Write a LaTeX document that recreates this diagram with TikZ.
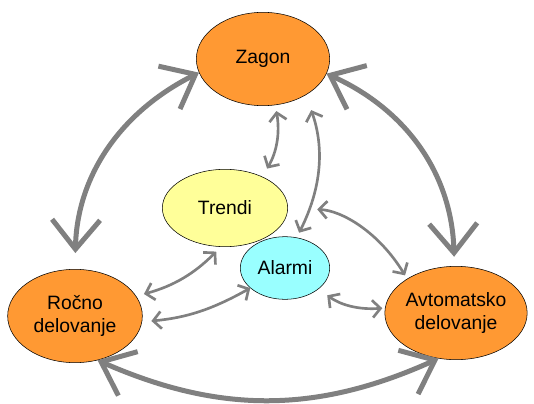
\documentclass[tikz,border=0pt]{standalone}
\usepackage{fontspec}
\setmainfont{Liberation Sans}
\usetikzlibrary{shapes.geometric,arrows.meta}
\definecolor{narancna}{RGB}{255,153,51}
\definecolor{rumena}{RGB}{255,255,153}
\definecolor{modra}{RGB}{153,255,255}
\definecolor{siva}{RGB}{128,128,128}
\tikzset{
  stanje/.style={ellipse, draw=black, fill=narancna, inner sep=0pt, align=center,
    font=\fontsize{14.5}{17}\selectfont},
  velika/.style={draw=siva, line width=3.75pt,
    {Straight Barb[length=22pt,width=36pt]}-{Straight Barb[length=22pt,width=36pt]}},
  mala/.style={draw=siva, line width=2pt,
    {Straight Barb[length=6pt,width=13pt]}-{Straight Barb[length=6pt,width=13pt]}},
}
\begin{document}
\begin{tikzpicture}[x=0.75pt, y=0.75pt]
  \useasboundingbox (0,0) rectangle (534,-403);
  % stanja
  \node[stanje, minimum width=100pt, minimum height=70pt] (zagon) at (263,-59) {Zagon};
  \node[stanje, fill=rumena, minimum width=94pt, minimum height=58pt] (trendi) at (225,-208) {Trendi};
  \node[stanje, fill=modra, minimum width=67pt, minimum height=47pt] (alarmi) at (285,-268) {Alarmi};
  \node[stanje, minimum width=101pt, minimum height=70pt] (rocno) at (75,-316) {Ročno\\delovanje};
  \node[stanje, minimum width=98pt, minimum height=70pt] (avto) at (456,-313) {Avtomatsko\\delovanje};
  % velike puscice
  \draw[velika, shorten >=12pt] (zagon.192) to[bend right=31] (rocno.90);
  \draw[velika, shorten >=7pt] (zagon.347) to[bend left=32] (avto.92);
  \draw[velika] (rocno.297) to[bend right=24] (avto.249);
  % male puscice
  \draw[mala, shorten <=4.5pt, shorten >=7pt] (zagon.285) to[bend left=20] (trendi.40);
  \draw[mala, shorten <=12pt, shorten >=4pt] (zagon.320) to[bend left=23] (alarmi.69);
  \draw[mala, shorten <=5pt, shorten >=6pt] (trendi.264) to[bend left=15] (rocno.18);
  \draw[mala, shorten >=7pt] (alarmi.210) to[bend left=12] (rocno.355);
  \draw[mala, shorten <=8pt, shorten >=2pt] (alarmi.328) to[bend right=20] (avto.176);
  \draw[mala, shorten <=22pt, shorten >=3pt] (trendi.0) to[bend left=28] (avto.145);
\end{tikzpicture}
\end{document}
